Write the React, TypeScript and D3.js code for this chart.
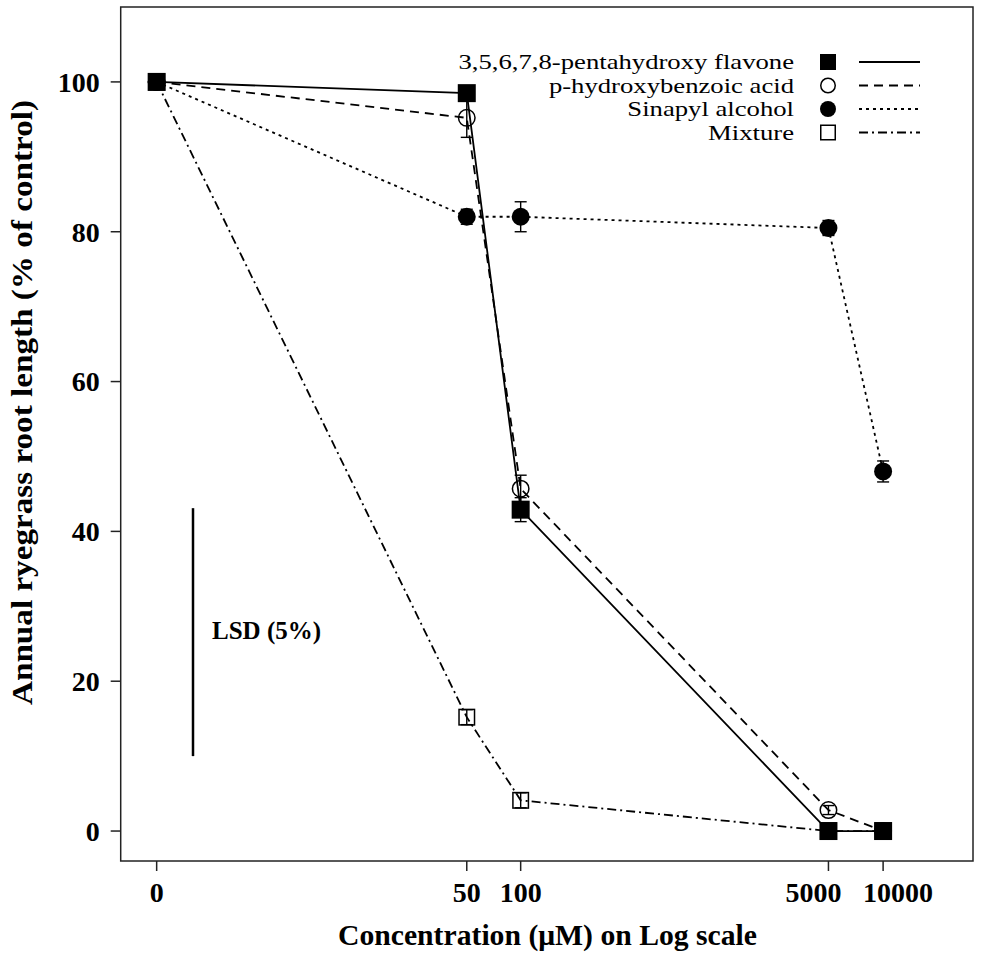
import { useEffect } from 'react'
import * as d3 from 'd3'

// concentrations in µM, plotted on log10(c + 1)
const concentrations = [0, 50, 100, 5000, 10000]
const xTickLabels = ['0', '50', '100', '5000', '10000']
const xLabelShift = [0, 0, 0, -15, 15]
const yTicks = [0, 20, 40, 60, 80, 100]

const flavone = [100, 98.5, 42.9, 0, 0]
const flavoneErr = [0, 0.6, 1.6, 0, 0]
const hydroxy = [100, 95.2, 45.7, 2.8, 0]
const hydroxyErr = [0, 2.6, 1.8, 0.6, 0]
const sinapyl = [100, 82.0, 82.0, 80.5, 48.0]
const sinapylErr = [0, 1.0, 2.0, 1.0, 1.4]
const mixture = [100, 15.2, 4.1, 0, 0]
const mixtureErr = [0, 1.0, 1.0, 0, 0]

const lsdRange = [10, 43.1]

const seriesNames = ['3,5,6,7,8-pentahydroxy flavone', 'p-hydroxybenzoic acid', 'Sinapyl alcohol', 'Mixture']

const W = 982
const H = 960
const FONT = "'Liberation Serif', 'Times New Roman', serif"

type Marker = 'fsquare' | 'ocircle' | 'fcircle' | 'osquare'

interface Series {
  name: string
  values: number[]
  err: number[]
  marker: Marker
  dash: string
}

const series: Series[] = [
  { name: seriesNames[3], values: mixture, err: mixtureErr, marker: 'osquare', dash: '9,4,2,4' },
  { name: seriesNames[2], values: sinapyl, err: sinapylErr, marker: 'fcircle', dash: '3,4' },
  { name: seriesNames[1], values: hydroxy, err: hydroxyErr, marker: 'ocircle', dash: '9,6' },
  { name: seriesNames[0], values: flavone, err: flavoneErr, marker: 'fsquare', dash: '' },
]
const legendOrder = [3, 2, 1, 0]

function MarkerShape({ type, x, y, size }: { type: Marker; x: number; y: number; size: number }) {
  const r = size / 2
  if (type === 'fsquare') return <rect x={x - r} y={y - r} width={size} height={size} fill="#000" />
  if (type === 'osquare') return <rect x={x - r + 0.75} y={y - r + 0.75} width={size - 1.5} height={size - 1.5} fill="none" stroke="#000" strokeWidth={1.5} />
  if (type === 'fcircle') return <circle cx={x} cy={y} r={r} fill="#000" />
  return <circle cx={x} cy={y} r={r - 0.75} fill="none" stroke="#000" strokeWidth={1.5} />
}

export default function App() {
  useEffect(() => {
    document.body.style.margin = '0'
  }, [])

  const left = 120.7
  const right = 973
  const top = 7
  const bottom = 861

  const toLog = (c: number) => Math.log10(c + 1)
  const x = d3.scaleLinear().domain([-0.198, 4.495]).range([left, right])
  const y = d3.scaleLinear().domain([-4, 110]).range([bottom, top])
  const px = (c: number) => x(toLog(c))

  const line = d3.line<number>()
    .x((_, i) => px(concentrations[i]))
    .y(d => y(d))

  const legX = 794
  const legY0 = 62
  const legStep = 23.5

  return (
    <svg width={W} height={H} style={{ display: 'block', background: '#fff' }} fontFamily={FONT}>
      {/* frame */}
      <rect x={left} y={top} width={right - left} height={bottom - top} fill="none" stroke="#222" strokeWidth={1.5} />

      {/* y axis */}
      {yTicks.map(t => (
        <g key={t}>
          <line x1={left - 10} x2={left} y1={y(t)} y2={y(t)} stroke="#222" strokeWidth={1.5} />
          <text x={left - 21} y={y(t)} dy="0.35em" textAnchor="end" fontSize={28} fontWeight="bold">{t}</text>
        </g>
      ))}
      <text
        transform={`translate(32,402.5) rotate(-90)`}
        textAnchor="middle" fontSize={30} fontWeight="bold"
        textLength={605} lengthAdjust="spacingAndGlyphs"
      >Annual ryegrass root length (% of control)</text>

      {/* x axis */}
      {concentrations.map((c, i) => (
        <g key={c}>
          <line x1={px(c)} x2={px(c)} y1={bottom} y2={bottom + 10} stroke="#222" strokeWidth={1.5} />
          <text x={px(c) + xLabelShift[i]} y={902} textAnchor="middle" fontSize={28} fontWeight="bold">{xTickLabels[i]}</text>
        </g>
      ))}
      <text x={547.5} y={945} textAnchor="middle" fontSize={30} fontWeight="bold"
        textLength={419} lengthAdjust="spacingAndGlyphs">
        Concentration (μM) on Log scale
      </text>

      {/* LSD bar */}
      <line x1={193} x2={193} y1={y(lsdRange[0])} y2={y(lsdRange[1])} stroke="#000" strokeWidth={2.5} />
      <text x={212} y={639} fontSize={25} fontWeight="bold">LSD (5%)</text>

      {/* lines */}
      {series.map(s => (
        <path key={s.name} d={line(s.values) || ''} fill="none" stroke="#000" strokeWidth={1.8} strokeDasharray={s.dash} />
      ))}

      {/* error bars */}
      {series.map(s => s.values.map((v, i) => s.err[i] > 0 ? (
        <g key={s.name + i} stroke="#000" strokeWidth={1.4}>
          <line x1={px(concentrations[i])} x2={px(concentrations[i])} y1={y(v - s.err[i])} y2={y(v + s.err[i])} />
          <line x1={px(concentrations[i]) - 6} x2={px(concentrations[i]) + 6} y1={y(v - s.err[i])} y2={y(v - s.err[i])} />
          <line x1={px(concentrations[i]) - 6} x2={px(concentrations[i]) + 6} y1={y(v + s.err[i])} y2={y(v + s.err[i])} />
        </g>
      ) : null))}

      {/* markers */}
      {series.map(s => s.values.map((v, i) => (
        <MarkerShape key={s.name + 'm' + i} type={s.marker} x={px(concentrations[i])} y={y(v)} size={s.marker === 'osquare' ? 17 : 18} />
      )))}

      {/* legend */}
      {legendOrder.map((si, row) => {
        const s = series[si]
        const ly = legY0 + row * legStep
        return (
          <g key={'leg' + s.name}>
            <text transform={`translate(${legX},${ly}) scale(1.27,1)`} dy="0.35em" textAnchor="end" fontSize={21}>{s.name}</text>
            <MarkerShape type={s.marker} x={828} y={ly} size={16} />
            <line x1={859} x2={920} y1={ly} y2={ly} stroke="#000" strokeWidth={1.8} strokeDasharray={s.dash} />
          </g>
        )
      })}
    </svg>
  )
}
